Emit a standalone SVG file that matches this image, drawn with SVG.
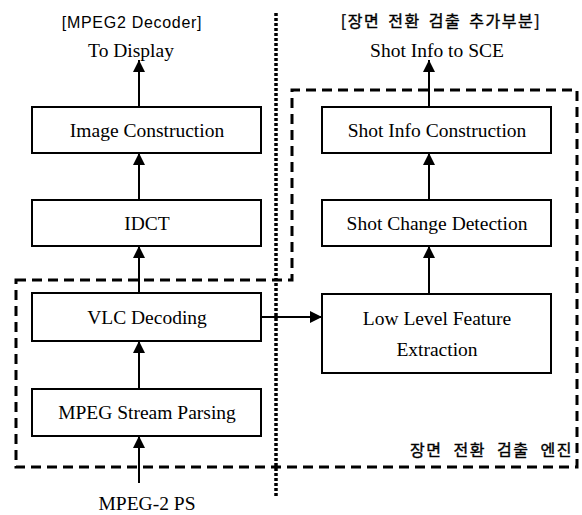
<svg xmlns="http://www.w3.org/2000/svg" width="582" height="515" viewBox="0 0 582 515">
<style>
.box{fill:#fff;stroke:#000;stroke-width:2}
.t{font-family:"Liberation Serif","Times New Roman",serif;font-size:19.5px;fill:#000;text-anchor:middle}
.s{font-family:"Liberation Sans","Noto Sans CJK KR",sans-serif;font-size:16px;letter-spacing:0.7px;fill:#000;text-anchor:middle}
.k{font-family:"Noto Sans CJK KR",sans-serif;font-size:16px;letter-spacing:1.5px;word-spacing:3px;fill:#000;stroke:#000;stroke-width:0.4}
.c{stroke:#000;stroke-width:2;fill:none}
</style>
<defs>
<marker id="ah" viewBox="0 0 12 12" refX="12" refY="6" markerWidth="12" markerHeight="12" markerUnits="userSpaceOnUse" orient="auto">
<path d="M0,0 L12,6 L0,12 z" fill="#000"/>
</marker>
</defs>
<g id="regions">
<line x1="276" y1="13" x2="276" y2="497" stroke="#000" stroke-width="3.5" stroke-dasharray="3,2"/>
<path d="M16,280 L292,280 L292,90 L577,90 L577,467 L16,467 Z" fill="none" stroke="#000" stroke-width="3" stroke-dasharray="10,6"/>
</g>
<g id="titles">
<text class="s" x="132" y="28">[MPEG2 Decoder]</text>
<text class="k" x="441" y="27" text-anchor="middle">[장면 전환 검출 추가부분]</text>
<text class="t" x="131" y="57">To Display</text>
<text class="t" x="437" y="57">Shot Info to SCE</text>
<text class="t" x="147" y="510">MPEG-2 PS</text>
<text class="k" x="573" y="456" text-anchor="end" style="word-spacing:6px">장면 전환 검출 엔진</text>
</g>
<g id="connectors">
<line class="c" x1="139" y1="107" x2="139" y2="60" marker-end="url(#ah)"/>
<line class="c" x1="139" y1="200" x2="139" y2="153" marker-end="url(#ah)"/>
<line class="c" x1="139" y1="293" x2="139" y2="246" marker-end="url(#ah)"/>
<line class="c" x1="139" y1="389" x2="139" y2="341" marker-end="url(#ah)"/>
<line class="c" x1="139" y1="483" x2="139" y2="436" marker-end="url(#ah)"/>
<line class="c" x1="261" y1="317" x2="322" y2="317" marker-end="url(#ah)"/>
<line class="c" x1="429" y1="294" x2="429" y2="246" marker-end="url(#ah)"/>
<line class="c" x1="429" y1="200" x2="429" y2="153" marker-end="url(#ah)"/>
<line class="c" x1="429" y1="107" x2="429" y2="60" marker-end="url(#ah)"/>
</g>
<g id="n-image"><rect class="box" x="32" y="107" width="229" height="46"/><text class="t" x="147" y="137">Image Construction</text></g>
<g id="n-idct"><rect class="box" x="32" y="200" width="229" height="46"/><text class="t" x="147" y="230">IDCT</text></g>
<g id="n-vlc"><rect class="box" x="32" y="293" width="229" height="48"/><text class="t" x="147" y="324">VLC Decoding</text></g>
<g id="n-parse"><rect class="box" x="32" y="389" width="229" height="47"/><text class="t" x="147" y="419">MPEG Stream Parsing</text></g>
<g id="n-shotinfo"><rect class="box" x="322" y="107" width="229" height="46"/><text class="t" x="437" y="137">Shot Info Construction</text></g>
<g id="n-shotchange"><rect class="box" x="322" y="200" width="229" height="46"/><text class="t" x="437" y="230">Shot Change Detection</text></g>
<g id="n-lowlevel"><rect class="box" x="322" y="294" width="229" height="79"/><text class="t" x="437" y="325">Low Level Feature</text><text class="t" x="437" y="356">Extraction</text></g>
</svg>
